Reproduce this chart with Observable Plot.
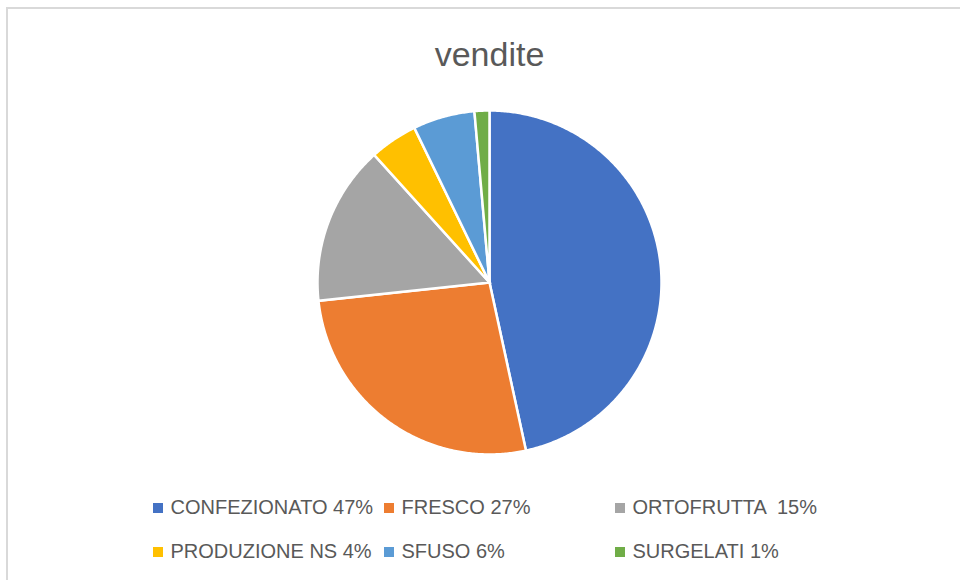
<!DOCTYPE html>
<html>
<head>
<meta charset="utf-8">
<script src="https://cdn.jsdelivr.net/npm/d3@7"></script>
<script src="https://cdn.jsdelivr.net/npm/@observablehq/plot@0.6"></script>
<style>
  html, body { margin: 0; padding: 0; background: #fff; }
  #frame { position: relative; width: 960px; height: 580px; overflow: hidden; background: #fff; }
  #border { position: absolute; left: 6px; top: 7px; right: -10px; bottom: -10px;
            border-left: 2px solid #d9d9d9; border-top: 2px solid #d9d9d9; pointer-events: none; }
  #chart { position: absolute; left: 0; top: 0; }
  svg text { white-space: pre; }
</style>
</head>
<body>
<div id="frame"><div id="chart"></div><div id="border"></div></div>
<script>
// ---- data ----
const title = "vendite";
const categories = ["CONFEZIONATO", "FRESCO", "ORTOFRUTTA", "PRODUZIONE NS", "SFUSO", "SURGELATI"];
const values = [46.6, 26.7, 15.0, 4.5, 5.8, 1.4];
const legendLabels = ["CONFEZIONATO 47%", "FRESCO 27%", "ORTOFRUTTA  15%", "PRODUZIONE NS 4%", "SFUSO 6%", "SURGELATI 1%"];
const colors = ["#4472C4", "#ED7D31", "#A5A5A5", "#FFC000", "#5B9BD5", "#70AD47"];

// ---- layout ----
const W = 960, H = 580;
const cx = 489, cy = 282, r = 172;
const colX = [153, 384, 615];
const rowBase = [513, 557];
const sw = 10;

const data = categories.map((c, i) => ({cat: c, value: values[i], label: legendLabels[i], i}));
const arcs = d3.pie().sort(null).value(d => d.value)(data);

// polygon outline of each slice (center + arc) in chart coordinates
const slicePts = [];
arcs.forEach(a => {
  const cat = a.data.cat;
  const n = Math.max(2, Math.ceil((a.endAngle - a.startAngle) / (Math.PI / 360)));
  slicePts.push({cat, x: cx, y: cy});
  for (let k = 0; k <= n; k++) {
    const t = a.startAngle + (a.endAngle - a.startAngle) * k / n;
    slicePts.push({cat, x: cx + r * Math.sin(t), y: cy - r * Math.cos(t)});
  }
});

const legend = data.map(d => ({...d, col: d.i % 3, row: Math.floor(d.i / 3)}));

const chart = Plot.plot({
  width: W,
  height: H,
  margin: 0,
  x: {domain: [0, W], range: [0, W], axis: null},
  y: {domain: [0, H], range: [0, H], axis: null},
  color: {domain: categories, range: colors},
  style: {background: "transparent"},
  marks: [
    Plot.line(slicePts, {
      x: "x", y: "y", z: "cat", fill: "cat",
      stroke: "white", strokeWidth: 2.5, strokeLinejoin: "miter", strokeMiterlimit: 4,
      curve: "linear-closed"
    }),
    Plot.text([title], {
      x: cx, y: 65, text: d => d, textAnchor: "middle", lineAnchor: "bottom",
      fontSize: 34, fontFamily: "'Liberation Sans', Arial, sans-serif", fill: "#595959"
    }),
    Plot.rect(legend, {
      x1: d => colX[d.col], x2: d => colX[d.col] + sw,
      y1: d => rowBase[d.row] - sw, y2: d => rowBase[d.row],
      fill: "cat"
    }),
    Plot.text(legend, {
      x: d => colX[d.col] + 17, y: d => rowBase[d.row] + 0.5,
      text: "label", textAnchor: "start", lineAnchor: "bottom",
      fontSize: 20, fontFamily: "'Liberation Sans', Arial, sans-serif", fill: "#595959"
    })
  ]
});
document.getElementById("chart").appendChild(chart);
</script>
</body>
</html>
